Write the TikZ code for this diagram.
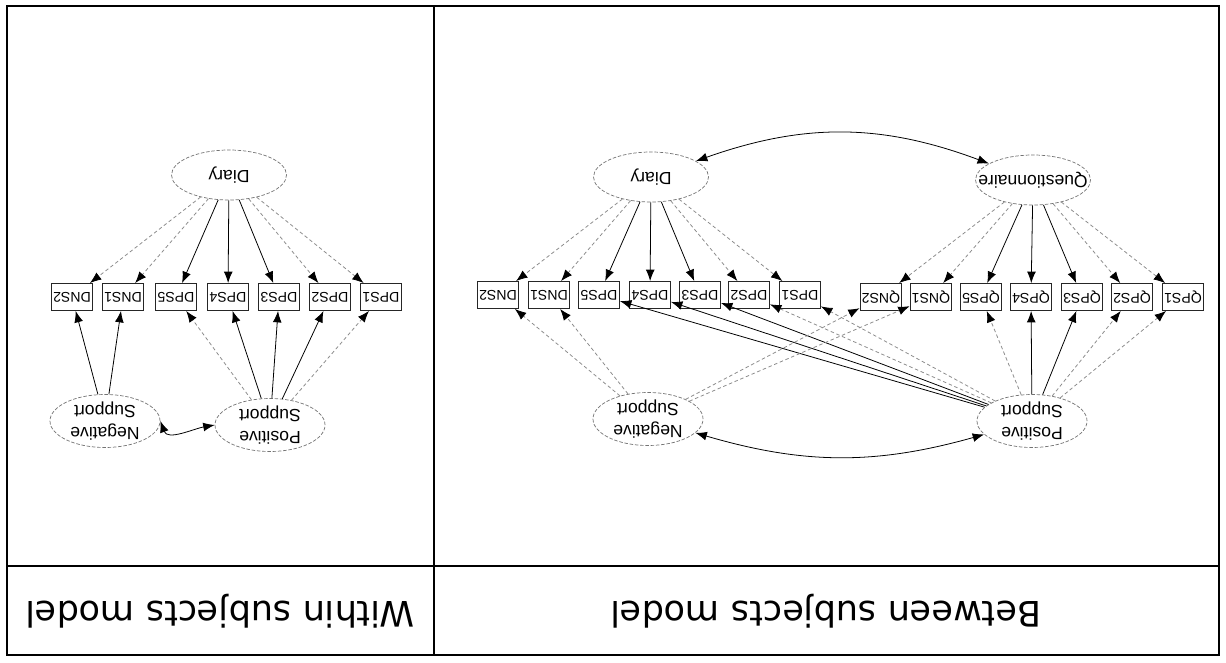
\documentclass[tikz,border=0pt]{standalone}
\usepackage{fontspec}
\setmainfont{Liberation Sans}
\newfontfamily\titlefont{DejaVu Sans}
\usetikzlibrary{arrows.meta,shapes.geometric}
\tikzstyle{frame}=[line width=1.4pt,black]
\tikzstyle{title}=[rotate=180,inner sep=0,font=\titlefont\fontsize{20}{24}\selectfont]
\tikzstyle{latent}=[ellipse,rotate=180,draw=black!55,dash pattern=on 2pt off 1pt,line width=0.4pt,
                    minimum width=2.3cm,minimum height=1.0cm,inner sep=0,align=center,
                    font=\fontsize{10}{12}\selectfont]
\tikzstyle{obs}=[rectangle,rotate=180,draw=black!85,line width=0.5pt,minimum width=0.82cm,
                 minimum height=0.54cm,inner sep=1pt,font=\fontsize{8}{8}\selectfont]
\tikzstyle{load}=[-{Latex[length=6.5pt,width=5pt,color=black]},line width=0.45pt]
\tikzstyle{faint}=[load,black!45,dash pattern=on 2pt off 1.5pt]
\tikzstyle{cov}=[{Latex[length=6.5pt,width=5pt]}-{Latex[length=6.5pt,width=5pt]},line width=0.45pt]

\begin{document}
\begin{tikzpicture}[x=0.2mm,y=-0.2mm]
  \useasboundingbox (0,0) rectangle (1226,662);

  % FRAME
  \draw[frame] (7,6) rectangle (1219,655);
  \draw[frame] (434,6) -- (434,655);
  \draw[frame] (7,566) -- (1219,566);
  \node[title] (within) at (220,611) {Within subjects model};
  \node[title] (between) at (826,611) {Between subjects model};

  % WITHIN: FACTORS
  \node[latent] (wdiary) at (229,175) {Diary};
  \node[latent,minimum width=2.2cm] (wneg) at (105,421) {Negative\\Support};
  \node[latent,minimum width=2.2cm] (wpos) at (270,425) {Positive\\Support};

  % WITHIN: ITEMS
  \node[obs] (wDNS2) at (72,297) {DNS2};
  \node[obs] (wDNS1) at (123,297) {DNS1};
  \node[obs] (wDPS5) at (176,297) {DPS5};
  \node[obs] (wDPS4) at (228,297) {DPS4};
  \node[obs] (wDPS3) at (279,297) {DPS3};
  \node[obs] (wDPS2) at (330,297) {DPS2};
  \node[obs] (wDPS1) at (381,297) {DPS1};

  % WITHIN: PATHS
  \draw[faint] (wdiary) -- (wDNS2);
  \draw[faint] (wdiary) -- (wDNS1);
  \draw[load]  (wdiary) -- (wDPS5);
  \draw[load]  (wdiary) -- (wDPS4);
  \draw[load]  (wdiary) -- (wDPS3);
  \draw[faint] (wdiary) -- (wDPS2);
  \draw[faint] (wdiary) -- (wDPS1);
  \draw[load]  (wneg) -- (wDNS2);
  \draw[load]  (wneg) -- (wDNS1);
  \draw[faint] (wpos) -- (wDPS5);
  \draw[load]  (wpos) -- (wDPS4);
  \draw[load]  (wpos) -- (wDPS3);
  \draw[load]  (wpos) -- (wDPS2);
  \draw[faint] (wpos) -- (wDPS1);
  \draw[cov] (wneg.west) to[out=-70,in=190] (wpos.east);

  % BETWEEN: FACTORS
  \node[latent] (bdiary) at (651,177) {Diary};
  \node[latent] (bquest) at (1033,180) {\makebox[0pt]{Questionnaire}};
  \node[latent,minimum width=2.2cm] (bneg) at (648,419) {Negative\\Support};
  \node[latent,minimum width=2.2cm] (bpos) at (1032,421) {Positive\\Support};

  % BETWEEN: ITEMS
  \node[obs] (bDNS2) at (498,295) {DNS2};
  \node[obs] (bDNS1) at (549,295) {DNS1};
  \node[obs] (bDPS5) at (599,295) {DPS5};
  \node[obs] (bDPS4) at (650,295) {DPS4};
  \node[obs] (bDPS3) at (700,295) {DPS3};
  \node[obs] (bDPS2) at (749,295) {DPS2};
  \node[obs] (bDPS1) at (800,295) {DPS1};
  \node[obs] (bQNS2) at (881,297) {QNS2};
  \node[obs] (bQNS1) at (931,297) {QNS1};
  \node[obs] (bQPS5) at (981,297) {QPS5};
  \node[obs] (bQPS4) at (1031,297) {QPS4};
  \node[obs] (bQPS3) at (1082,297) {QPS3};
  \node[obs] (bQPS2) at (1132,297) {QPS2};
  \node[obs] (bQPS1) at (1183,297) {QPS1};

  % BETWEEN: PATHS
  \draw[faint] (bdiary) -- (bDNS2);
  \draw[faint] (bdiary) -- (bDNS1);
  \draw[load]  (bdiary) -- (bDPS5);
  \draw[load]  (bdiary) -- (bDPS4);
  \draw[load]  (bdiary) -- (bDPS3);
  \draw[faint] (bdiary) -- (bDPS2);
  \draw[faint] (bdiary) -- (bDPS1);
  \draw[faint] (bquest) -- (bQNS2);
  \draw[faint] (bquest) -- (bQNS1);
  \draw[load]  (bquest) -- (bQPS5);
  \draw[load]  (bquest) -- (bQPS4);
  \draw[load]  (bquest) -- (bQPS3);
  \draw[faint] (bquest) -- (bQPS2);
  \draw[faint] (bquest) -- (bQPS1);
  \draw[faint] (bpos) -- (bQPS5);
  \draw[load]  (bpos) -- (bQPS4);
  \draw[load]  (bpos) -- (bQPS3);
  \draw[faint] (bpos) -- (bQPS2);
  \draw[faint] (bpos) -- (bQPS1);
  \draw[load]  (bpos) -- (bDPS5);
  \draw[load]  (bpos) -- (bDPS4);
  \draw[load]  (bpos) -- (bDPS3);
  \draw[faint] (bpos) -- (bDPS2);
  \draw[faint] (bpos) -- (bDPS1);
  \draw[faint] (bneg) -- (bDNS2);
  \draw[faint] (bneg) -- (bDNS1);
  \draw[faint] (bneg) -- (bQNS2);
  \draw[faint] (bneg) -- (bQNS1);
  \draw[cov] (bdiary) to[bend left=20] (bquest);
  \draw[cov] (bneg) to[bend right=16] (bpos);

\end{tikzpicture}
\end{document}
